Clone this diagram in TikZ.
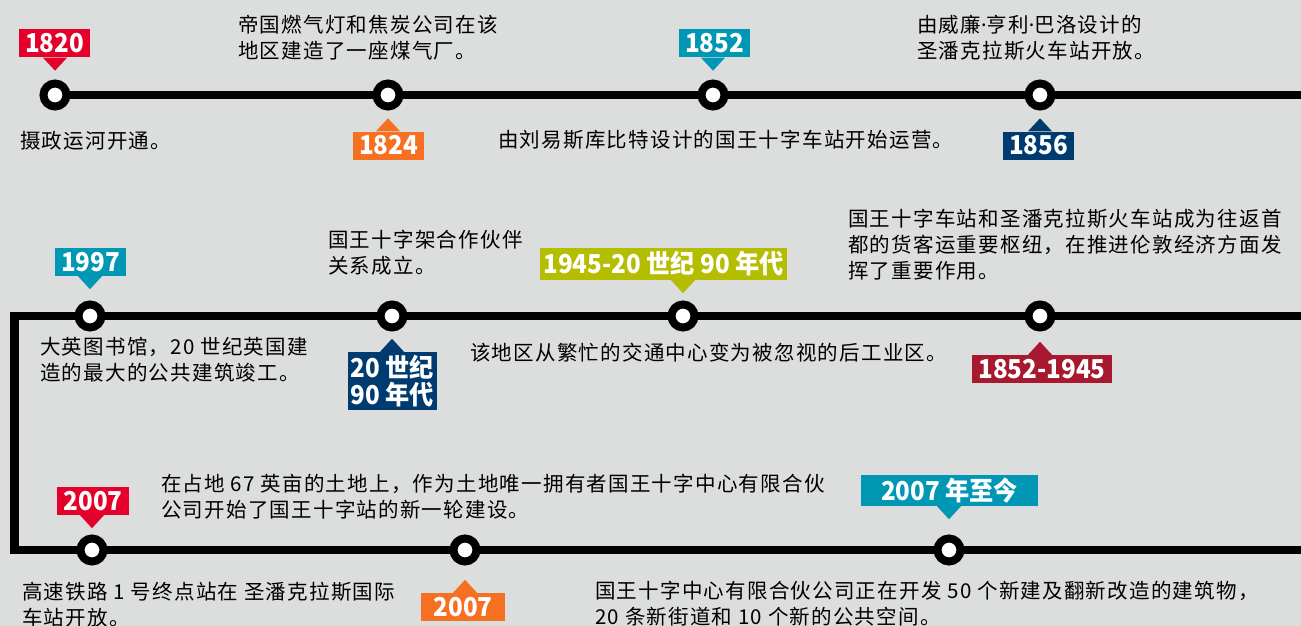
\documentclass[tikz,border=0pt]{standalone}
\usepackage{fontspec}
\setmainfont{Noto Sans CJK SC}
\newfontfamily\notefont[LetterSpace=6]{Noto Sans CJK SC}
\newfontfamily\tagfont[FakeStretch=0.93]{Noto Sans CJK SC}
\newfontfamily\dotfont{Noto Sans}
\usetikzlibrary{backgrounds}

\definecolor{bggray}{RGB}{220,221,221}
\definecolor{tagred}{RGB}{228,0,43}
\definecolor{tagorange}{RGB}{245,112,32}
\definecolor{tagteal}{RGB}{0,151,181}
\definecolor{tagnavy}{RGB}{0,59,111}
\definecolor{tagolive}{RGB}{181,189,0}
\definecolor{tagcrimson}{RGB}{166,25,46}

\begin{document}
\begin{tikzpicture}[
  x=1pt, y=-1pt,
  track/.style={draw=black, line width=8.5pt, line join=miter},
  stop/.style={circle, draw=black, fill=white, line width=8pt,
               minimum size=23pt, inner sep=0pt},
  tag/.style={fill=#1, text=white, font=\tagfont\bfseries\fontsize{26}{27}\selectfont,
              inner xsep=6pt, inner ysep=0pt, minimum height=28pt},
  note/.style={anchor=west, align=left, inner sep=0pt,
               font=\notefont\fontsize{20.5}{26}\selectfont},
]
  \useasboundingbox (0,0) rectangle (1301,626);

  % ---- Stops, three rows ----
  \node[stop] (s1)  at (55,95)   {};
  \node[stop] (s2)  at (388,95)  {};
  \node[stop] (s3)  at (713,95)  {};
  \node[stop] (s4)  at (1040,95) {};
  \node[stop] (s5)  at (90,316)  {};
  \node[stop] (s6)  at (392,316) {};
  \node[stop] (s7)  at (683,316) {};
  \node[stop] (s8)  at (1040,316) {};
  \node[stop] (s9)  at (92,550)  {};
  \node[stop] (s10) at (465,550) {};
  \node[stop] (s11) at (949,550) {};

  % ---- Track ends and corners ----
  \coordinate (e1) at (1301,95);
  \coordinate (e2) at (1301,316);
  \coordinate (k1) at (14.5,316);
  \coordinate (k2) at (14.5,550);
  \coordinate (e3) at (1301,550);

  % ---- Background and track (behind the stops) ----
  \begin{scope}[on background layer]
    \fill[bggray] (0,0) rectangle (1301,626);
    \draw[track] (s1.center) -- (e1);
    \draw[track] (e2) -- (k1) -- (k2) -- (e3);
  \end{scope}

  % ==== Year tags ====
  \node[tag=tagred]     (t1820) at (54.5,43.5)  {1820};
  \node[tag=tagorange]  (t1824) at (388.5,145.5) {1824};
  \node[tag=tagteal]    (t1852) at (714.5,43.5) {1852};
  \node[tag=tagnavy]    (t1856) at (1038.5,145.5) {1856};
  \node[tag=tagteal]    (t1997) at (90.5,262)   {1997};
  \node[tag=tagnavy, align=left, minimum height=58pt, inner xsep=3pt]
                        (t1990) at (392.5,381)  {20 世纪\\90 年代};
  \node[tag=tagolive, minimum height=32pt, inner xsep=3pt]
                        (t1945) at (663.5,264)  {1945-20 世纪 90 年代};
  \node[tag=tagcrimson] (t1852b) at (1042,369)  {1852-1945};
  \node[tag=tagred, minimum width=72pt]    (t2007a) at (93,501)  {2007};
  \node[tag=tagorange, minimum width=84pt] (t2007b) at (463,607) {2007};
  \node[tag=tagteal, minimum width=177pt, minimum height=31pt]
                        (t2007c) at (949.5,490.5) {2007 年至今};

  % ==== Tag pointers (tag -> stop) ====
  \fill[tagred]     (t1820.south -| s1)  ++(-12,0) -- ++(24,0) -- ++(-12,13) -- cycle;
  \fill[tagorange]  (t1824.north -| s2)  ++(-12,0) -- ++(24,0) -- ++(-12,-13) -- cycle;
  \fill[tagteal]    (t1852.south -| s3)  ++(-12,0) -- ++(24,0) -- ++(-12,13) -- cycle;
  \fill[tagnavy]    (t1856.north -| s4)  ++(-12,0) -- ++(24,0) -- ++(-12,-13) -- cycle;
  \fill[tagteal]    (t1997.south -| s5)  ++(-12,0) -- ++(24,0) -- ++(-12,13) -- cycle;
  \fill[tagnavy]    (t1990.north -| s6)  ++(-12,0) -- ++(24,0) -- ++(-12,-13) -- cycle;
  \fill[tagolive]   (t1945.south -| s7)  ++(-12,0) -- ++(24,0) -- ++(-12,13) -- cycle;
  \fill[tagcrimson] (t1852b.north -| s8) ++(-12,0) -- ++(24,0) -- ++(-12,-13) -- cycle;
  \fill[tagred]     (t2007a.south -| s9) ++(-12,0) -- ++(24,0) -- ++(-12,13) -- cycle;
  \fill[tagorange]  (t2007b.north -| s10) ++(-12,0) -- ++(24,0) -- ++(-12,-13) -- cycle;
  \fill[tagteal]    (t2007c.south -| s11) ++(-12,0) -- ++(24,0) -- ++(-12,13) -- cycle;

  % ==== Notes ====
  % row 1
  \node[note] (n1) at (20,141)  {摄政运河开通。};
  \node[note] (n2) at (238,38)  {帝国燃气灯和焦炭公司在该\\地区建造了一座煤气厂。};
  \node[note] (n3) at (498,140) {由刘易斯库比特设计的国王十字车站开始运营。};
  \node[note] (n4) at (917,38)  {由威廉{\dotfont ·}亨利{\dotfont ·}巴洛设计的\\圣潘克拉斯火车站开放。};
  % row 2
  \node[note] (n5) at (40,359.5) {大英图书馆，20 世纪英国建\\造的最大的公共建筑竣工。};
  \node[note] (n6) at (328,253)  {国王十字架合作伙伴\\关系成立。};
  \node[note] (n7) at (470,353)  {该地区从繁忙的交通中心变为被忽视的后工业区。};
  \node[note] (n8) at (848,245)  {国王十字车站和圣潘克拉斯火车站成为往返首\\都的货客运重要枢纽，在推进伦敦经济方面发\\挥了重要作用。};
  % row 3
  \node[note] (n9)  at (22,605)   {高速铁路 1 号终点站在 圣潘克拉斯国际\\车站开放。};
  \node[note] (n10) at (161,496.5) {在占地 67 英亩的土地上，作为土地唯一拥有者国王十字中心有限合伙\\公司开始了国王十字站的新一轮建设。};
  \node[note] (n11) at (595,603.5) {国王十字中心有限合伙公司正在开发 50 个新建及翻新改造的建筑物，\\20 条新街道和 10 个新的公共空间。};
\end{tikzpicture}
\end{document}
